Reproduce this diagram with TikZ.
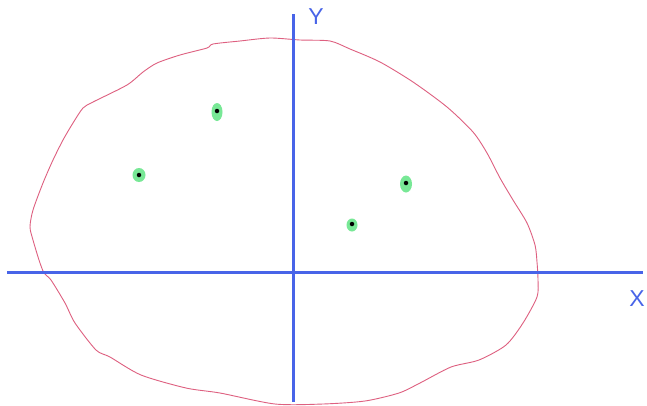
\documentclass[tikz,border=0pt]{standalone}
\usepackage{fontspec}
\setmainfont{Liberation Sans}
\usetikzlibrary{shapes.geometric}
\begin{document}
\begin{tikzpicture}[x=1pt,y=-1pt,
  axis/.style={draw=axblue,line width=3pt},
  blob/.style={draw=blobred,line width=0.9pt},
  axlabel/.style={text=axblue,font=\fontsize{23}{25}\selectfont,inner sep=0pt},
  halo/.style={ellipse,fill=dotgreen,inner sep=0pt},
  core/.style={circle,fill=black,inner sep=0pt,minimum size=4.5pt}]
\definecolor{axblue}{RGB}{72,100,232}
\definecolor{blobred}{RGB}{222,96,128}
\definecolor{dotgreen}{RGB}{120,232,150}
\useasboundingbox[fill=white] (0,0) rectangle (647,405);
% blob
\draw[blob] plot[smooth cycle,tension=0.45] coordinates {
(213,44)(240,41)(270,38)(300,40)(330,41)(350,49)(380,62)(413,82)(447,107)(473,132)(487,153)(500,178)(513,200)(527,223)(535,245)(537,262)(538,280)(537,297)(523,323)(506,345)(479,360)(451,367)(420,383)(399,393)(365,401)(323,404)(275,404)(220,393)(186,388)(141,375)(110,357)(96,350)(75,323)(65,303)(51,280)(44,273)(39,260)(33,240)(30,227)(33,210)(43,183)(53,160)(63,140)(73,123)(83,108)(93,102)(127,85)(143,72)(157,63)(180,55)(207,48)};
% axes
\coordinate (xl) at (7,272);
\coordinate (xr) at (643,272);
\coordinate (yt) at (293,14);
\coordinate (yb) at (293,402);
\draw[axis] (xl) -- (xr);
\draw[axis] (yt) -- (yb);
\node[axlabel] (ylab) at (316,17) {Y};
\node[axlabel] (xlab) at (637,299) {X};
% points
\node[halo,minimum width=11pt,minimum height=18pt] (h1) at (217,112) {};
\node[core] (p1) at (217,111) {};
\node[halo,minimum width=13pt,minimum height=14pt] (h2) at (139,175) {};
\node[core] (p2) at (139,175) {};
\node[halo,minimum width=12pt,minimum height=17pt] (h3) at (406,184) {};
\node[core] (p3) at (406,183) {};
\node[halo,minimum width=11pt,minimum height=13pt] (h4) at (352,225) {};
\node[core] (p4) at (352,224) {};
\end{tikzpicture}
\end{document}
